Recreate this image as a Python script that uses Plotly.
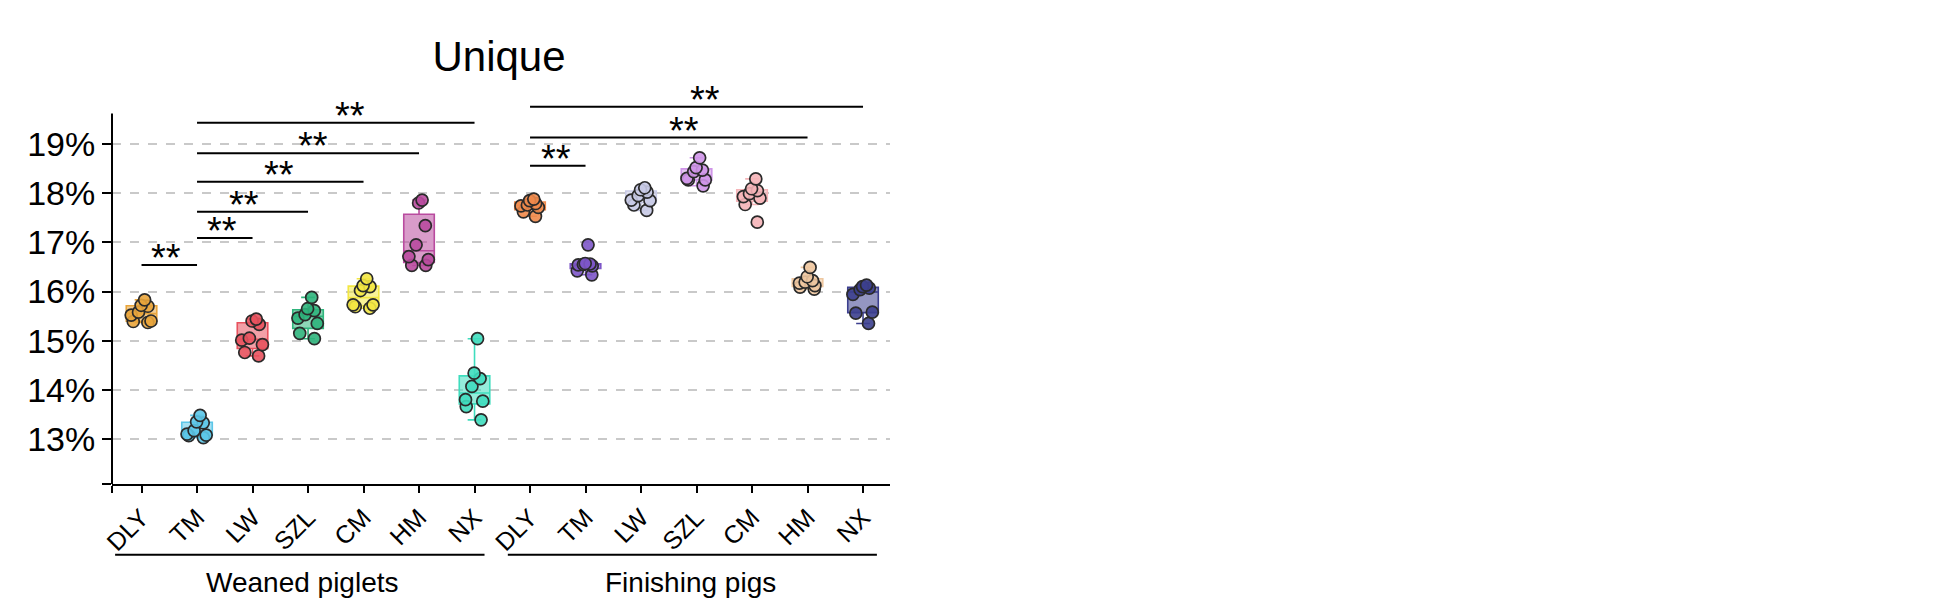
import plotly.graph_objects as go

# ---------------- data ----------------
categories = ["DLY", "TM", "LW", "SZL", "CM", "HM", "NX"]
tick_labels = categories + categories
groups = ["Weaned piglets", "Finishing pigs"]

# Weaned piglets (% unique)
w_dly = [15.37, 15.39, 15.40, 15.52, 15.58, 15.70, 15.72, 15.83]
w_tm = [13.03, 13.07, 13.08, 13.10, 13.17, 13.33, 13.35, 13.48]
w_lw = [14.69, 14.76, 14.92, 15.01, 15.05, 15.33, 15.40, 15.44]
w_szl = [15.04, 15.15, 15.35, 15.46, 15.53, 15.61, 15.65, 15.88]
w_cm = [15.66, 15.69, 15.73, 15.73, 16.02, 16.10, 16.12, 16.26]
w_hm = [16.53, 16.53, 16.65, 16.71, 16.95, 17.34, 17.80, 17.86]
w_nx = [13.39, 13.66, 13.77, 13.80, 14.07, 14.23, 14.34, 15.04]

# Finishing pigs (% unique)
f_dly = [17.53, 17.62, 17.71, 17.74, 17.76, 17.79, 17.85, 17.88]
f_tm = [16.34, 16.42, 16.52, 16.54, 16.55, 16.56, 16.57, 16.95]
f_lw = [17.65, 17.76, 17.85, 17.86, 17.95, 18.02, 18.07, 18.11]
f_szl = [18.15, 18.27, 18.27, 18.30, 18.44, 18.47, 18.52, 18.72]
f_cm = [17.41, 17.77, 17.90, 17.93, 17.99, 18.05, 18.09, 18.29]
f_hm = [16.05, 16.09, 16.12, 16.17, 16.19, 16.22, 16.30, 16.49]
f_nx = [15.35, 15.56, 15.58, 15.94, 16.04, 16.07, 16.10, 16.13]

series = [w_dly, w_tm, w_lw, w_szl, w_cm, w_hm, w_nx,
          f_dly, f_tm, f_lw, f_szl, f_cm, f_hm, f_nx]

colors = ["#E9A53C", "#5CC6E8", "#E8525E", "#2FB47C", "#F3E743", "#B94B9F", "#3FDDBE",
          "#F08A4B", "#7D56C8", "#C8CAE6", "#CF95E8", "#F5B4B8", "#EEC7A0", "#3C3F8E"]

# y tick values / labels
y_ticks = [13, 14, 15, 16, 17, 18, 19]
y_tick_text = ["13%", "14%", "15%", "16%", "17%", "18%", "19%"]
y_axis_span = [12.085, 19.62]
y_range = [12.085, 20.302]
x_range = [-0.532, 13.486]

# significance brackets: (start index, end index, height, star x)
br_start = [0, 1, 1, 1, 1, 1, 7, 7, 7]
br_end = [1, 2, 3, 4, 5, 6, 8, 12, 13]
br_height = [16.54, 17.09, 17.62, 18.23, 18.81, 19.43, 18.56, 19.13, 19.76]
br_star_x = [0.44, 1.45, 1.84, 2.47, 3.09, 3.75, 7.46, 9.77, 10.16]
br_label = ["**"] * 9

# group underline spans and label centres (in category units)
group_start = [-0.476, 6.60]
group_end = [6.18, 13.25]
group_label_x = [2.9, 9.9]


def rgba(hex_col, a):
    h = hex_col.lstrip("#")
    r, g, b = int(h[0:2], 16), int(h[2:4], 16), int(h[4:6], 16)
    return f"rgba({r},{g},{b},{a})"


FONT = "Arial, Liberation Sans, sans-serif"

fig = go.Figure()
for i, (vals, col) in enumerate(zip(series, colors)):
    fig.add_trace(go.Box(
        x=[i] * len(vals),
        y=vals,
        width=0.55,
        boxpoints="all",
        jitter=0.85,
        pointpos=0,
        quartilemethod="inclusive",
        whiskerwidth=0.45,
        fillcolor=rgba(col, 0.55),
        line=dict(color=col, width=1.6),
        marker=dict(color=rgba(col, 0.9), size=12,
                    line=dict(color="#2a2a2a", width=1.7)),
        hoverinfo="y",
        showlegend=False,
    ))

shapes = []
annotations = []
# visible y-axis line (shorter than the plot area so brackets fit above)
shapes.append(dict(type="line", xref="paper", x0=0, x1=0, yref="y",
                   y0=y_axis_span[0], y1=y_axis_span[1],
                   line=dict(color="black", width=2)))

for s, e, h, sx, lab in zip(br_start, br_end, br_height, br_star_x, br_label):
    shapes.append(dict(type="line", xref="x", yref="y", x0=s, x1=e, y0=h, y1=h,
                       line=dict(color="black", width=2)))
    annotations.append(dict(x=sx, y=h, xref="x", yref="y", text=lab,
                            showarrow=False, xanchor="center", yanchor="bottom",
                            yshift=-16, font=dict(family=FONT, size=38, color="black")))

for gs, ge, gx, gname in zip(group_start, group_end, group_label_x, groups):
    shapes.append(dict(type="line", xref="x", yref="paper", x0=gs, x1=ge,
                       y0=-0.175, y1=-0.175, line=dict(color="black", width=2)))
    annotations.append(dict(x=gx, y=-0.243, xref="x", yref="paper", text=gname,
                            showarrow=False, xanchor="center", yanchor="middle",
                            font=dict(family=FONT, size=28, color="black")))

fig.update_layout(
    width=1944, height=600,
    margin=dict(l=104, r=1062, t=72, b=124, pad=0),
    paper_bgcolor="white", plot_bgcolor="white",
    showlegend=False,
    font=dict(family=FONT, color="black"),
    title=dict(text="Unique", x=491 / 1944, xref="container", xanchor="center",
               y=1 - 48 / 600, yref="container", yanchor="middle",
               font=dict(family=FONT, size=42, color="black")),
    shapes=shapes,
    annotations=annotations,
    xaxis=dict(
        range=x_range,
        tickmode="array",
        tickvals=[x_range[0]] + list(range(len(tick_labels))),
        ticktext=[""] + tick_labels,
        tickangle=-45,
        ticks="outside", ticklen=7, tickwidth=2, tickcolor="black",
        tickfont=dict(family=FONT, size=25, color="black"),
        showline=True, linecolor="black", linewidth=2,
        showgrid=False, zeroline=False, automargin=False,
    ),
    yaxis=dict(
        range=y_range,
        tickmode="array",
        tickvals=[y_axis_span[0]] + y_ticks,
        ticktext=[""] + y_tick_text,
        ticks="outside", ticklen=9, tickwidth=2, tickcolor="black",
        tickfont=dict(family=FONT, size=34, color="black"),
        showline=False,
        showgrid=True, gridcolor="#C9C9C9", gridwidth=1.5, griddash="dash",
        zeroline=False, automargin=False,
    ),
)

fig.write_html("out.html")
